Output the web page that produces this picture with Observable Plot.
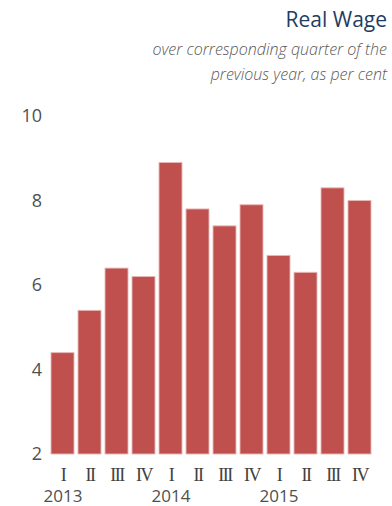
<!DOCTYPE html>
<html>
<head>
<meta charset="utf-8">
<script src="https://cdn.jsdelivr.net/npm/d3@7"></script>
<script src="https://cdn.jsdelivr.net/npm/@observablehq/plot@0.6"></script>
<style>
  html, body { margin: 0; padding: 0; background: #fff; }
  body { width: 392px; height: 506px; position: relative; overflow: hidden; font-family: "Open Sans", "Noto Sans", sans-serif; }
  #title { position: absolute; right: 5px; top: 5px; font-size: 21px; color: #1f3d63; font-weight: 400; line-height: 28px; }
  #subtitle { position: absolute; right: 5px; top: 37px; font-size: 16px; color: #595959; font-style: italic; font-weight: 300; line-height: 25px; text-align: right; }
  #chart { position: absolute; left: 0; top: 95px; }
  .roman text { letter-spacing: -1.5px; }
</style>
</head>
<body>
<div id="title">Real Wage</div>
<div id="subtitle">over corresponding quarter of the<br>previous year, as per cent</div>
<div id="chart"></div>
<script>
const years    = ["2013","2013","2013","2013","2014","2014","2014","2014","2015","2015","2015","2015"];
const quarters = ["I","II","III","IV","I","II","III","IV","I","II","III","IV"];
const values   = [4.4, 5.4, 6.4, 6.2, 8.9, 7.8, 7.4, 7.9, 6.7, 6.3, 8.3, 8.0];
const yTicks   = [2, 4, 6, 8, 10];

const data = values.map((v, i) => ({key: years[i] + " " + quarters[i], year: years[i], q: quarters[i], value: v, first: i % 4 === 0}));

const chart = Plot.plot({
  width: 392,
  height: 411,
  marginLeft: 50,
  marginRight: 21,
  marginTop: 21,
  marginBottom: 52,
  style: {fontFamily: "'Open Sans', 'Noto Sans', sans-serif", fontSize: "18px", color: "#404040", background: "#fff"},
  x: {domain: data.map(d => d.key), paddingInner: 0.15, paddingOuter: 0, axis: null},
  y: {domain: [2, 10], axis: null},
  marks: [
    Plot.barY(data, {x: "key", y1: 2, y2: "value", fill: "#c0504d", stroke: "#e8b9b8", strokeWidth: 1, strokeOpacity: 0.9}),
    Plot.text(yTicks, {x: () => data[0].key, y: d => d, text: d => String(d), dx: -21, textAnchor: "end", fontSize: 18, fill: "#505050"}),
    Plot.text(data, {x: "key", text: "q", frameAnchor: "bottom", dy: 21, lineAnchor: "middle", fontSize: 18, fill: "#404040", fontFamily: "'Liberation Serif', serif", className: "roman"}),
    Plot.text(data.filter(d => d.first), {x: "key", text: "year", frameAnchor: "bottom", dy: 42, lineAnchor: "middle", fontSize: 17, fill: "#505050"})
  ]
});
document.getElementById("chart").appendChild(chart);
</script>
</body>
</html>
